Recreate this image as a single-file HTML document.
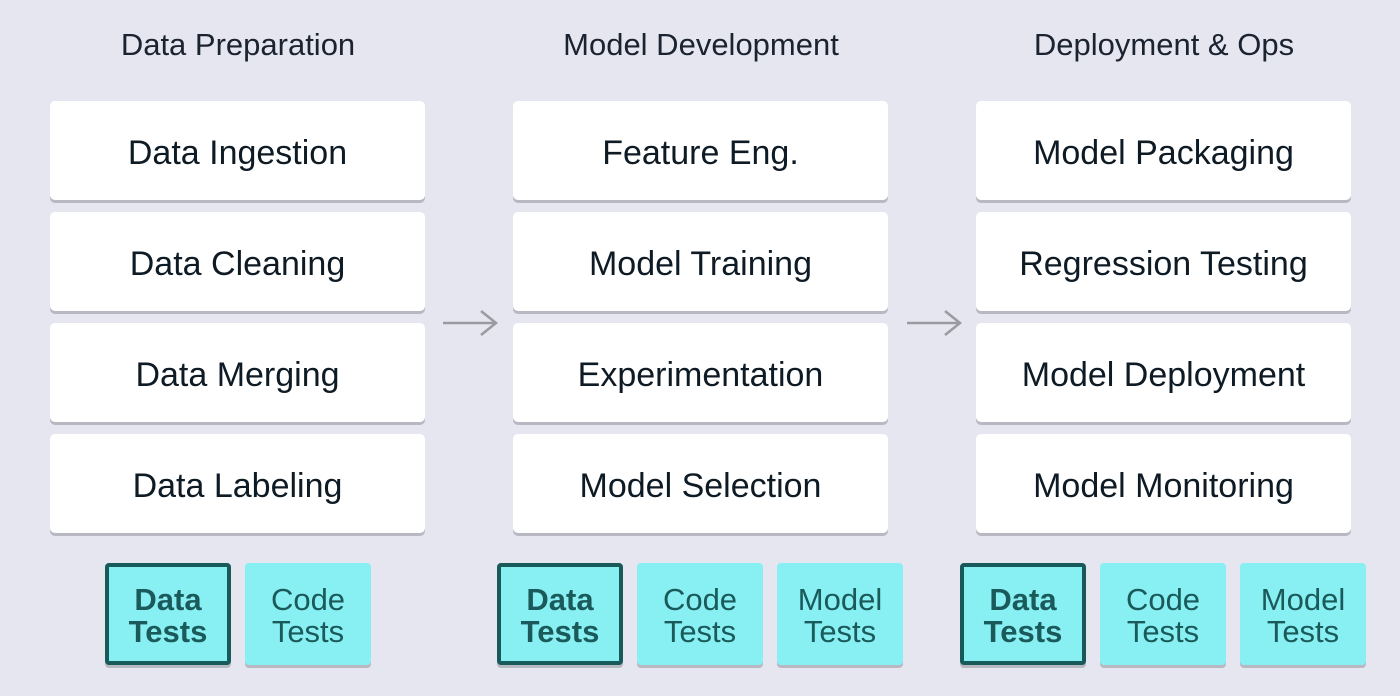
<!DOCTYPE html>
<html><head><style>
body{margin:0;width:1400px;height:696px;background:#e6e6f0;position:relative;overflow:hidden;font-family:"Liberation Sans",sans-serif;}
.h{position:absolute;top:27px;width:376px;text-align:center;font-size:31px;color:#1b2230;}
.b{position:absolute;width:375px;height:99px;background:#fff;border-radius:5px;box-shadow:0 3px 0 #b8b8c2;display:flex;align-items:center;justify-content:center;font-size:34px;color:#0e1a24;box-sizing:border-box;padding-top:5px;}
.t{position:absolute;top:563px;width:126px;height:102px;background:#88eff2;border-radius:4px;box-shadow:0 3px 0 #b8b8c2;box-sizing:border-box;display:flex;align-items:center;justify-content:center;text-align:center;font-size:31px;line-height:32px;color:#1a5a5a;padding-top:3px;}
.d{border:4px solid #185a5a;font-weight:bold;}
</style></head><body>
<div class="h" style="left:50px">Data Preparation</div>
<div class="h" style="left:513px">Model Development</div>
<div class="h" style="left:976px">Deployment &amp; Ops</div>

<div class="b" style="left:50px;top:101px">Data Ingestion</div>
<div class="b" style="left:50px;top:212px">Data Cleaning</div>
<div class="b" style="left:50px;top:323px">Data Merging</div>
<div class="b" style="left:50px;top:434px">Data Labeling</div>

<div class="b" style="left:513px;top:101px">Feature Eng.</div>
<div class="b" style="left:513px;top:212px">Model Training</div>
<div class="b" style="left:513px;top:323px">Experimentation</div>
<div class="b" style="left:513px;top:434px">Model Selection</div>

<div class="b" style="left:976px;top:101px">Model Packaging</div>
<div class="b" style="left:976px;top:212px">Regression Testing</div>
<div class="b" style="left:976px;top:323px">Model Deployment</div>
<div class="b" style="left:976px;top:434px">Model Monitoring</div>

<svg style="position:absolute;left:0;top:0" width="1400" height="696">
<g stroke="#9a9aa2" stroke-width="2.5" fill="none">
<path d="M443 323H496M481 311L496 323L481 335"/>
<path d="M907 323H960M945 311L960 323L945 335"/>
</g></svg>

<div class="t d" style="left:105px">Data<br>Tests</div>
<div class="t" style="left:245px">Code<br>Tests</div>
<div class="t d" style="left:497px">Data<br>Tests</div>
<div class="t" style="left:637px">Code<br>Tests</div>
<div class="t" style="left:777px">Model<br>Tests</div>
<div class="t d" style="left:960px">Data<br>Tests</div>
<div class="t" style="left:1100px">Code<br>Tests</div>
<div class="t" style="left:1240px">Model<br>Tests</div>
</body></html>
